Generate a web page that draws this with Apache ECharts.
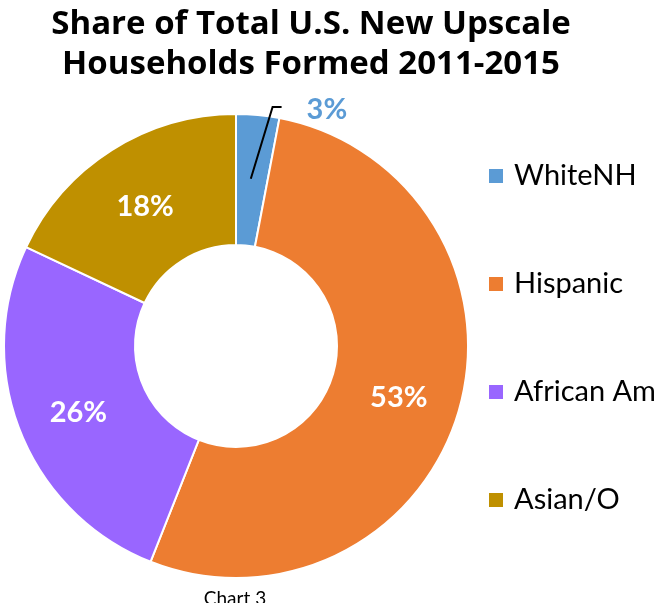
<!DOCTYPE html>
<html>
<head>
<meta charset="utf-8">
<script src="https://cdn.jsdelivr.net/npm/echarts@6/dist/echarts.min.js"></script>
<style>
html,body{margin:0;padding:0;background:#fff;}
#chart{width:660px;height:603px;}
</style>
</head>
<body>
<div id="chart"></div>
<script>
var categories = ['WhiteNH', 'Hispanic', 'African Am', 'Asian/O'];
var shares = [3, 53, 26, 18];
var colors = ['#5B9BD5', '#ED7D31', '#9966FF', '#BF9000'];
var titleText = 'Share of Total U.S. New Upscale\nHouseholds Formed 2011-2015';
var footText = 'Chart 3';

var FONT = 'Lato, "Open Sans", sans-serif';
var TITLE_FONT = '"Open Sans", Lato, sans-serif';

// main ring: inside labels (first slice labelled outside by the overlay series)
var mainData = categories.map(function (c, i) {
  var item = { name: c, value: shares[i], itemStyle: { color: colors[i] } };
  if (i === 0) item.label = { show: false };
  return item;
});
// overlay ring (invisible) only carrying the outside label + leader of the first slice
var overlayData = categories.map(function (c, i) {
  var item = { name: c, value: shares[i] };
  if (i === 0) {
    item.label = { show: true };
    item.labelLine = { show: true };
  }
  return item;
});

var chart = echarts.init(document.getElementById('chart'), null, { renderer: 'canvas' });
chart.setOption({
  animation: false,
  color: colors,
  title: [{
    text: titleText,
    left: 306,
    top: 0,
    textAlign: 'center',
    textStyle: { fontFamily: TITLE_FONT, fontWeight: 'bold', fontSize: 33, lineHeight: 40, color: '#000' }
  }, {
    text: footText,
    left: 230,
    top: 584,
    textAlign: 'center',
    textStyle: { fontFamily: FONT, fontWeight: 'normal', fontSize: 19, lineHeight: 20, color: '#000' }
  }],
  legend: {
    orient: 'vertical',
    left: 482,
    top: 156,
    itemWidth: 16,
    itemHeight: 16,
    itemGap: 78,
    icon: 'rect',
    data: categories,
    textStyle: { fontFamily: FONT, fontSize: 29, lineHeight: 30, color: '#000', padding: [0, 0, 0, 5] }
  },
  series: [{
    type: 'pie',
    name: 'main',
    center: [236, 346],
    radius: [101, 232],
    startAngle: 90,
    clockwise: true,
    avoidLabelOverlap: false,
    itemStyle: { borderColor: '#fff', borderWidth: 2 },
    label: {
      show: true,
      position: 'inside',
      formatter: '{c}%',
      fontFamily: FONT,
      fontWeight: 'bold',
      fontSize: 29,
      color: '#fff'
    },
    labelLine: { show: false },
    labelLayout: { dy: 4 },
    emphasis: { disabled: true },
    silent: true,
    data: mainData
  }, {
    type: 'pie',
    name: 'overlay',
    z: 5,
    center: [236, 346],
    radius: [101, 232],
    startAngle: 90,
    clockwise: true,
    avoidLabelOverlap: false,
    legendHoverLink: false,
    itemStyle: { color: 'rgba(0,0,0,0)', borderWidth: 0 },
    label: {
      show: false,
      position: 'outside',
      formatter: '{c}%',
      fontFamily: FONT,
      fontWeight: 'bold',
      fontSize: 29,
      color: '#5B9BD5',
      padding: [0, 0, 0, 33]
    },
    labelLine: { show: false, length: 8, length2: 10, lineStyle: { color: '#000', width: 2 } },
    labelLayout: function (params) {
      if (params.dataIndex !== 0) return {};
      var p = params.labelLinePoints;
      if (!p) return {};
      var dx = p[1][0] - p[0][0], dy = p[1][1] - p[0][1];
      var len = Math.sqrt(dx * dx + dy * dy) || 1;
      var start = [p[0][0] - dx / len * 64 - 1, p[0][1] - dy / len * 64];
      return { dy: 3, labelLinePoints: [start, [p[1][0] + 14, p[1][1]], [p[2][0] + 13, p[2][1]]] };
    },
    emphasis: { disabled: true },
    silent: true,
    data: overlayData
  }]
});
</script>
</body>
</html>
